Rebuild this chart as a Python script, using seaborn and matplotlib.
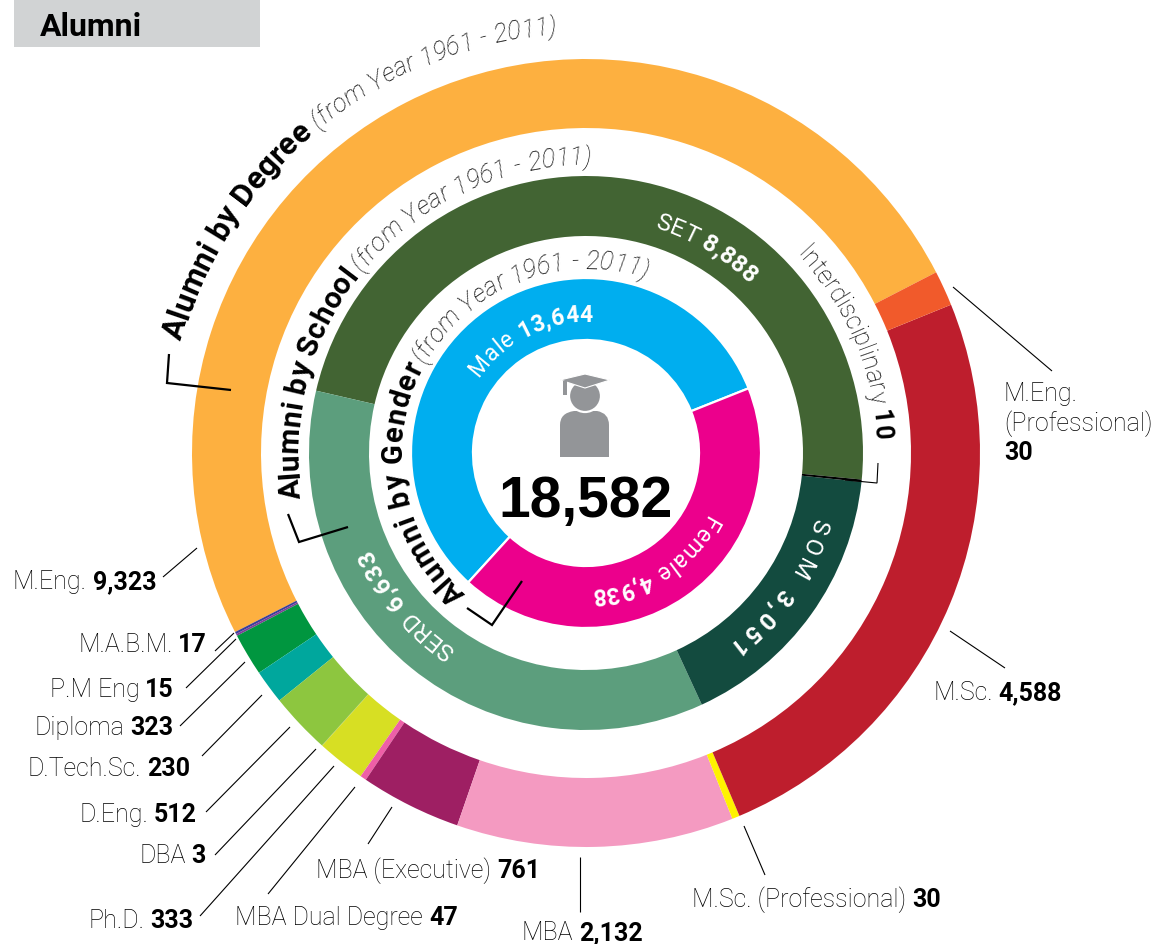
import math
import matplotlib
matplotlib.use("Agg")
import matplotlib.pyplot as plt
from matplotlib.font_manager import FontProperties
from matplotlib.textpath import text_to_path
from matplotlib.patches import Rectangle, Polygon, Circle, PathPatch
from matplotlib.path import Path
import seaborn as sns

# ---------- data ----------
degree_names = ["M.Eng.", "M.A.B.M.", "P.M Eng", "Diploma", "D.Tech.Sc.", "D.Eng.", "DBA", "Ph.D.",
                "MBA Dual Degree", "MBA (Executive)", "MBA", "M.Sc. (Professional)", "M.Sc.", "M.Eng. (Professional)"]
degree_labels = ["9,323", "17", "15", "323", "230", "512", "3", "333", "47", "761", "2,132", "30", "4,588", "30"]
# slice sizes (they differ from the printed numbers in places)
degree_drawn = [9278, 17, 15, 323, 258, 465, 3, 369, 47, 769, 2111, 57, 4604, 268]
degree_colors = ["#FDB040", "#3B3F98", "#7F3F98", "#00963F", "#00A79D", "#8DC63F", "#7FB23A", "#D7DF23",
                 "#EE5FA7", "#9E1F63", "#F49AC1", "#FFF200", "#BE1E2D", "#F15A2B"]
school_names = ["SET", "SERD", "SOM", "Interdisciplinary"]
school_labels = ["8,888", "6,633", "3,051", "10"]
school_drawn = [8904, 6592, 3060, 26]
school_colors = ["#426433", "#5C9E7D", "#134B3F", "#000000"]
gender_names = ["Male", "Female"]
gender_labels = ["13,644", "4,938"]
# slice sizes as drawn, in degrees: they do not follow the printed counts
gender_drawn = [206, 154]
gender_colors = ["#00AEEF", "#EC008C"]
total_label = "18,582"
title = "Alumni"
subtitle = "(from Year 1961 - 2011)"

# ---------- setup ----------
sns.set_theme(style="white")
FONT = "Roboto"
plt.rcParams["font.family"] = [FONT, "DejaVu Sans"]
W, H = 1159, 944
DPI = 100
fig = plt.figure(figsize=(W / DPI, H / DPI), dpi=DPI, facecolor="white")
ax = fig.add_axes([0, 0, 1, 1])
CX, CY = 586, 453


def Y(y):
    return H - y


def ring(values, colors, r_out, r_in, start, sep=None):
    ax.pie(values, colors=sns.color_palette(colors), radius=r_out, center=(CX, Y(CY)), startangle=start,
           counterclock=True, normalize=True,
           wedgeprops=dict(width=r_out - r_in, edgecolor=sep or "none", linewidth=1.6 if sep else 0))


ring(degree_drawn, degree_colors, 394, 325, 27.3)
ring(school_drawn, school_colors, 277, 217, -5.5)
ring(gender_drawn, gender_colors, 175, 113, 21.7, sep="white")
ax.set_xlim(0, W)
ax.set_ylim(0, H)
ax.set_aspect("equal")
ax.axis("off")


def fp(weight="light", style="normal", size=10):
    return FontProperties(family=FONT, weight=weight, style=style, size=size)


def width_px(s, prop):
    bar = text_to_path.get_text_width_height_descent("|", prop, ismath=False)[0]
    w = text_to_path.get_text_width_height_descent(s + "|", prop, ismath=False)[0]
    return (w - bar) * DPI / 72


def arc_text(segments, r, a0, a1, color="black"):
    """Set text clockwise along a circle, filling the arc from angle a0 to a1 (degrees)."""
    items = []
    pos = 0.0
    for s, prop in segments:
        for i, ch in enumerate(s):
            left = width_px(s[:i], prop)
            adv = width_px(s[:i + 1], prop) - left
            items.append((ch, prop, pos + left + adv / 2))
        pos += width_px(s, prop)
    arc = math.radians(a0 - a1) * r
    extra = (arc - pos) / max(1, len(items) - 1)
    for i, (ch, prop, p) in enumerate(items):
        if ch == " ":
            continue
        a = a0 - math.degrees((p + extra * i) / r)
        x = CX + r * math.cos(math.radians(a))
        y = Y(CY) + r * math.sin(math.radians(a))
        ax.text(x, y, ch, fontproperties=prop, color=color, rotation=a - 90, rotation_mode="anchor",
                ha="center", va="baseline")


def label(regular, bold, x, y, anchor="right", size=18):
    pr, pb = fp("light", size=size), fp("bold", size=size)
    wr = width_px(regular + " ", pr)
    wb = width_px(bold, pb)
    left = x - wr - wb if anchor == "right" else x
    ax.text(left, Y(y), regular, fontproperties=pr, color="black", ha="left", va="baseline")
    ax.text(left + wr, Y(y), bold, fontproperties=pb, color="black", ha="left", va="baseline")


def line(points, lw=0.9):
    ax.plot([p[0] for p in points], [Y(p[1]) for p in points], color="black", lw=lw,
            solid_joinstyle="miter", solid_capstyle="butt")


# title box
ax.add_patch(Rectangle((14, Y(47)), 246, 47, color="#D1D3D4", lw=0))
ax.text(40, Y(36), title, fontproperties=fp("bold", size=23), color="black", ha="left", va="baseline")

# ring titles
arc_text([("Alumni by Degree", fp("bold", size=22.5))], 420, 164.5, 130.5)
arc_text([(subtitle, fp("light", "italic", size=18))], 420, 129.5, 94)
arc_text([("Alumni by School", fp("bold", size=21.5))], 288, 189, 142)
arc_text([(subtitle, fp("light", "italic", size=18))], 288, 141, 89)
arc_text([("Alumni by Gender", fp("bold", size=21))], 184, 229.5, 152)
arc_text([(subtitle, fp("light", "italic", size=18))], 184, 151, 71)

# labels inside rings
arc_text([(gender_names[0] + " ", fp("normal", size=16.5)), (gender_labels[0], fp("bold", size=16.5))], 131, 145, 87, "white")
arc_text([(gender_names[1] + " ", fp("normal", size=16.5)), (gender_labels[1], fp("bold", size=16.5))], 135, -27, -88, "white")
arc_text([(school_names[0] + " ", fp("normal", size=17.5)), (school_labels[0], fp("bold", size=17.5))], 235, 73, 46, "white")
arc_text([(school_names[1] + " ", fp("normal", size=17.5)), (school_labels[1], fp("bold", size=17.5))], 235, 236, 204, "white")
arc_text([(school_names[2] + " ", fp("normal", size=17.5)), (school_labels[2], fp("bold", size=17.5))], 237, -16, -53.7, "white")
arc_text([(school_names[3] + " ", fp("light", size=18)), (school_labels[3], fp("bold", size=18))], 289, 43.5, 2.6)

# outer labels
anchors = [(156, 589), (207, 652), (174, 697), (173, 735), (190, 776), (197, 822), (206, 863), (193, 928), (458, 925)]
for i, (x, y) in enumerate(anchors):
    label(degree_names[i], degree_labels[i], x, y)
label(degree_names[9], degree_labels[9], 316, 878, "left")
label(degree_names[10], degree_labels[10], 522, 940, "left")
label(degree_names[11], degree_labels[11], 692, 907, "left")
label(degree_names[12], degree_labels[12], 933, 700, "left")
prof = degree_names[13].split(" ")
ax.text(1004, Y(401), prof[0], fontproperties=fp("light", size=18), color="black", va="baseline")
ax.text(1004, Y(431), prof[1], fontproperties=fp("light", size=18), color="black", va="baseline")
ax.text(1004, Y(460), degree_labels[13], fontproperties=fp("bold", size=18), color="black", va="baseline")

# leader lines
for seg in [[(163, 577), (197, 548)], [(215, 651), (234, 633)], [(186, 688), (236, 639)], [(180, 726), (245, 662)],
            [(202, 756), (262, 695)], [(206, 812), (290, 727)], [(215, 855), (316, 749)], [(200, 916), (334, 766)],
            [(268, 894), (355, 787)], [(368, 844), (392, 807)], [(580, 857), (580, 912)], [(744, 826), (765, 875)],
            [(950, 631), (1005, 668)], [(953, 287), (1052, 371)]]:
    line(seg, 0.8)

# brackets
line([(169, 354), (167, 383), (231, 390)], 1.6)
line([(288, 514), (299, 542), (348, 527)], 1.6)
line([(467, 608), (492, 625), (522, 581)], 1.6)
line([(878, 463), (877, 483), (845, 480)], 0.8)

# centre figure
ax.text(585.5, Y(517), total_label, fontfamily="Liberation Sans", fontweight="bold", fontsize=41, color="black",
        ha="center", va="baseline")
GREY = "#939598"
body = Path([(560, 457), (560, 425), (560, 413), (574, 411), (597, 411), (609, 413), (609, 425), (609, 457), (560, 457)],
            [Path.MOVETO, Path.LINETO, Path.CURVE3, Path.CURVE3, Path.LINETO, Path.CURVE3, Path.CURVE3, Path.LINETO, Path.CLOSEPOLY])
body = Path([(px, Y(py)) for px, py in body.vertices], body.codes)
ax.add_patch(PathPatch(body, facecolor=GREY, edgecolor="none"))
ax.add_patch(Circle((585, Y(396)), 16, facecolor=GREY, edgecolor="white", lw=1.6))
ax.add_patch(Polygon([(p, Y(q)) for p, q in [(560, 380), (585, 374), (610, 380), (585, 388)]], facecolor=GREY, edgecolor="white", lw=0.8))
ax.add_patch(Polygon([(p, Y(q)) for p, q in [(563, 381), (567, 381), (567, 395), (563, 395)]], facecolor=GREY, edgecolor="none"))

fig.savefig("out.png", dpi=DPI, facecolor="white")
